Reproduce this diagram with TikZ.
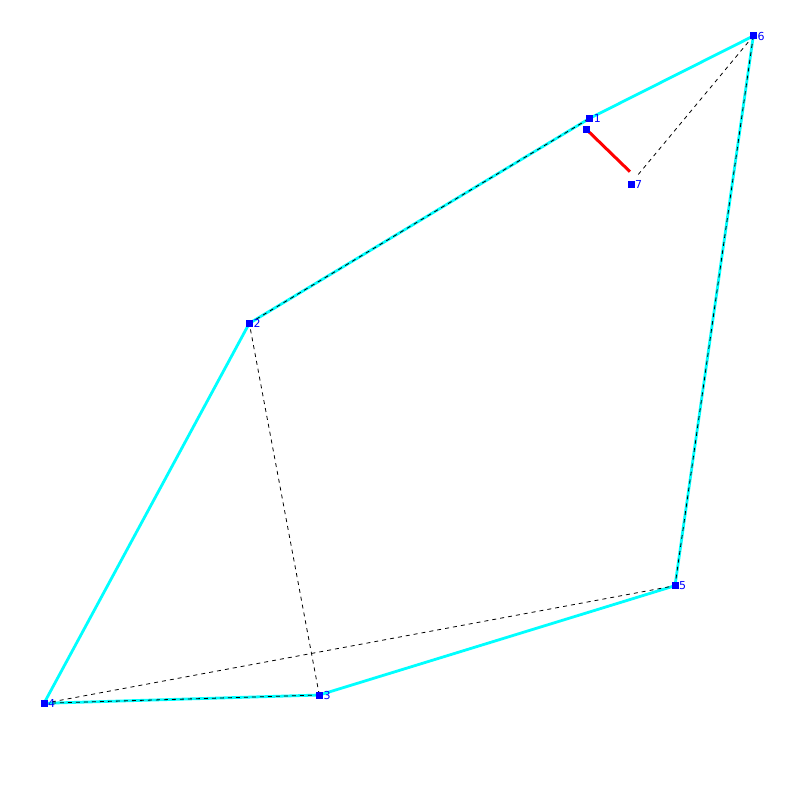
\documentclass[tikz,border=0pt]{standalone}
\usepackage{fontspec}
\setmainfont{DejaVu Sans}
\definecolor{ptblue}{RGB}{0,0,255}
\definecolor{edgecyan}{RGB}{0,255,255}
\definecolor{segred}{RGB}{255,0,0}
\tikzset{
  pt/.style={fill=ptblue, minimum size=7pt, inner sep=0pt, outer sep=0pt, draw=none, rectangle},
  lbl/.style={text=ptblue, font=\fontsize{11}{11}\selectfont, inner sep=0pt, anchor=west},
  hull/.style={draw=edgecyan, line width=2.8pt},
  dashedge/.style={draw=black, line width=0.8pt, dash pattern=on 4pt off 4pt},
  redseg/.style={draw=segred, line width=3pt}
}
\begin{document}
\begin{tikzpicture}[x=1pt,y=-1pt]
\useasboundingbox (0,0) rectangle (800,800);
\coordinate (p1) at (589.7,118.3);
\coordinate (p2) at (249.3,323.3);
\coordinate (p3) at (319.3,695);
\coordinate (p4) at (44,703.3);
\coordinate (p5) at (675,585.7);
\coordinate (p6) at (753.3,36);
\coordinate (p7) at (631,184.3);
\coordinate (p8) at (586.3,129.3);
\coordinate (r8) at (630,171.7);
\coordinate (d7) at (637,176);
% hull
\draw[hull] (p4) -- (p2) -- (p1) -- (p6) -- (p5) -- (p3) -- cycle;
% red segment
\draw[redseg] (p8) -- (r8);
% dashed
\draw[dashedge] (p2) -- (p1);
\draw[dashedge] (p6) -- (p5);
\draw[dashedge] (p4) -- (p3);
\draw[dashedge] (p3) -- (p2);
\draw[dashedge] (p4) -- (p5);
\draw[dashedge] (p6) -- (d7);
% points
\foreach \i in {1,...,8} { \node[pt] (n\i) at (p\i) {}; }
\foreach \i in {1,...,7} { \node[lbl] (l\i) at ([xshift=4pt]p\i) {\i}; }
\end{tikzpicture}
\end{document}
